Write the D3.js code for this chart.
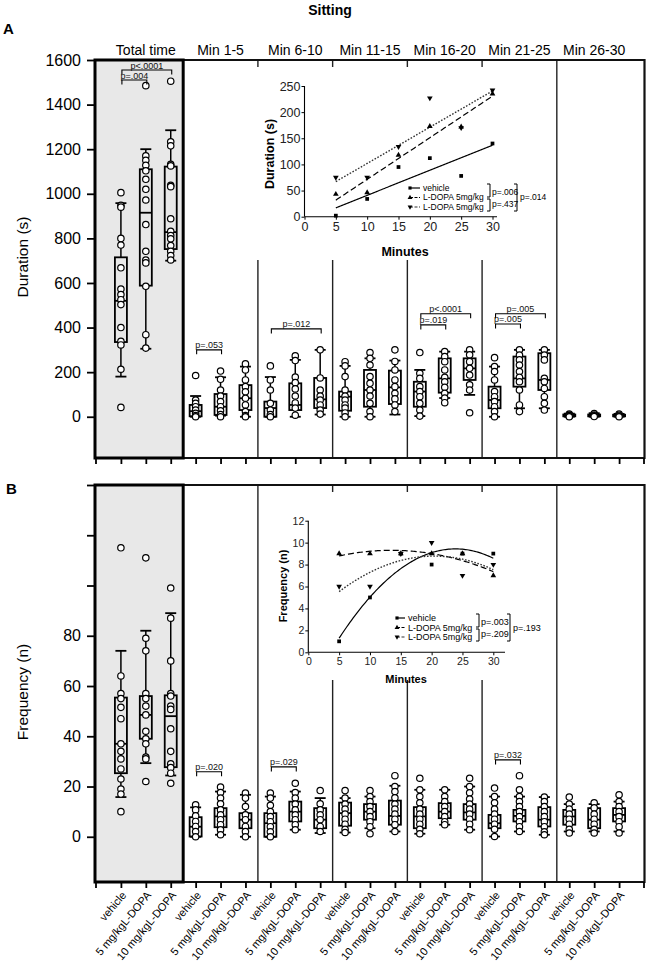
<!DOCTYPE html>
<html><head><meta charset="utf-8">
<script src="https://cdn.jsdelivr.net/npm/d3@7"></script>
<style>
body{margin:0;background:#fff}
svg{display:block;font-family:"Liberation Sans",Arial,sans-serif}
</style>
</head><body>
<svg id="c" width="649" height="967"></svg>
<script>
// ---------------- DATA ----------------
const periods = ["Total time","Min 1-5","Min 6-10","Min 11-15","Min 16-20","Min 21-25","Min 26-30"];
const treatments = ["vehicle","5 mg/kgL-DOPA","10 mg/kgL-DOPA"];

const durTicks = [0,200,400,600,800,1000,1200,1400,1600];
const durTickLabels = [0,200,400,600,800,1000,1200,1400,1600];
const freqTicks = [0,20,40,60,80,100,120,140];
const freqTickLabels = [0,20,40,60,80];

// Duration box stats (21 groups: period x treatment)
const durLo  = [180,305,700, 0,5,0, 0,0,10, 0,0,10, 3,84,98, 0,38,38, 0,0,0];
const durQ1  = [335,588,752, 2,8,30, 0,30,39, 27,45,57, 45,108,165, 38,135,120, 2,2,2];
const durMed = [520,915,828, 25,45,83, 39,53,78, 90,120,132, 113,172,217, 75,172,165, 5,6,5];
const durQ3  = [715,1110,1122, 53,102,142, 68,150,174, 113,210,207, 157,262,262, 135,270,285, 10,10,9];
const durHi  = [958,1200,1285, 93,177,225, 178,255,300, 228,262,252, 210,292,292, 225,300,300, 14,16,13];
const durPts = [
  [1005,948,940,800,770,668,573,548,525,503,400,338,322,213,42],
  [1485,1170,1150,1128,1103,1065,1020,972,862,742,703,690,585,368,308],
  [1505,1233,1215,1132,1125,1038,1032,888,832,813,798,768,742,723,703],
  [185,75,60,45,30,15,5,0],
  [205,168,120,93,68,45,27,10,0],
  [237,210,165,135,112,83,53,23,5,0],
  [228,165,120,60,30,10,0],
  [273,252,178,153,125,93,62,39,7],
  [300,174,120,93,75,53,30,12],
  [247,228,180,120,93,75,53,39,17,0],
  [288,262,232,180,150,120,93,60,23,0],
  [300,248,210,165,135,105,80,53,23],
  [288,195,172,135,113,90,60,30,3],
  [292,270,247,210,177,157,132,105,84,63],
  [300,278,247,217,187,143,120,18],
  [265,225,203,165,113,90,68,45,23,0],
  [300,277,255,232,203,177,157,120,53,23],
  [300,277,255,172,157,127,90,60,30],
  [12,8,5,2,0],
  [14,8,4,1],
  [12,7,3,0]
];
// Frequency box stats
const frqLo  = [15.8,29.3,24.4, 0,0.8,0, 0,2.8,1.5, 1.7,3.4,2.1, 1.2,4.8,2.8, 0.1,2.1,0.8, 2.1,2.1,2.1];
const frqQ1  = [25.3,39,27.7, 0.1,3.8,3.4, 0,6.1,3.4, 4.4,6.8,4.8, 3.4,7.4,6.8, 3.4,6.1,4.1, 4.8,3.4,6.1];
const frqMed = [37,48.5,48, 4,8.1,6.8, 5.4,10,6.8, 9.4,10,8.3, 8.1,10,9.7, 5.4,8.3,6.8, 8.1,6.8,8.7];
const frqQ3  = [55.4,56,56.3, 7.8,11.4,9.4, 9.4,14,11.4, 13.6,13,14.4, 11.8,13.4,13, 8.7,10.7,11.8, 10.7,11.4,11.4];
const frqHi  = [74,82,89, 11.7,18,16.7, 16,18,15.4, 15.4,16,20.3, 18.7,18.7,20, 16,16,15.8, 13,13,14];
const frqPts = [
  [115,64,57,55,51.5,47,37,34,31,27,23,19,17,10],
  [111,79,74,57,55,52,48.5,42,39,37,31.7,31,22],
  [99,87,70,57,56,52,50.7,43,34,29,27.5,25.3,21.3],
  [12.7,10.7,8.3,6.1,4.1,2.1,0],
  [19.8,17.6,15.4,13.1,10.7,8.7,6.8,4.8,2.8,0.8],
  [17.4,15.4,12,8.7,6.8,4.1,2.1,0],
  [17.4,15.4,12.5,10,8,6,4,2,0],
  [21.3,17.6,15.4,13,10.7,8.7,6.8,4.8,2.8],
  [18.4,13.1,10.7,8.7,6.8,4.1,2.1],
  [18.4,15.4,13,11,9,7,5,3,1.7],
  [18.4,16,14,12,10,8,6,4,1.2],
  [24.3,20,18,15.5,13,11,9,7,4.8,2.1],
  [23.3,18.7,16,13.5,11,9,7,5,3,1.2],
  [18.7,16,14,12,10,8,6,4.8],
  [23.3,20,17.5,15,13,11,9,7,5,2.8],
  [19.4,16,13.5,11,9,7,5,3,0.1],
  [24.3,18.7,16,14,12,10,8,6,4,2.1],
  [15.8,14,12,10,8,6,4,2,0.8],
  [15.8,13,11,9,7,5,3,1.5],
  [13.5,11.5,9,7,5,3,1.5],
  [16.7,14,12,10,8,6,4,1.5]
];
// significance brackets: [group from, group to, value level, label]
const durBrackets = [[0,2,1555,"p<.0001"],[0,1,1510,"p=.004"],[3,4,300,"p=.053"],[6,8,394,"p=.012"],
  [12,14,462,"p<.0001"],[12,13,412,"p=.019"],[15,17,462,"p=.005"],[15,16,416,"p=.005"]];
const frqBrackets = [[3,4,25.9,"p=.020"],[6,7,27.8,"p=.029"],[15,16,30.6,"p=.032"]];

// insets
const minutes = [5,10,15,20,25,30];
const minuteTicks = [0,5,10,15,20,25,30];
const insetDurTicks = [0,50,100,150,200,250];
const insetFrqTicks = [0,2,4,6,8,10,12];
const insetDurVeh = [2,34,95,112,78,140];
const insetDur5   = [43,46,118,173,172,235];
const insetDur10  = [75,75,134,227,170,242];
const insetFrqVeh = [1,5,9,8,9,9];
const insetFrq5   = [9,9,9,9,9,7];
const insetFrq10  = [6,6,9,10,7,8];
const insetLegend = ["vehicle","L-DOPA 5mg/kg","L-DOPA 5mg/kg"];
const insetDurP = ["p=.006","p=.437","p=.014"];
const insetFrqP = ["p=.003","p=.209","p=.193"];

// ---------------- DRAW ----------------
const FONT = '"Liberation Sans",Arial,sans-serif';
const svg = d3.select("#c");
const cats = d3.range(21);
const x = d3.scalePoint().domain(cats).range([96,644]).padding(1);
const st = x.step();
const divX = d3.range(1,7).map(k => x(k*3-1) + st/2);
const grayR = divX[0];

svg.append("text").attr("x",330).attr("y",15).attr("text-anchor","middle")
  .attr("font-weight","bold").attr("font-size",14).text("Sitting");
svg.append("text").attr("x",3).attr("y",34).attr("font-weight","bold").attr("font-size",15).text("A");
svg.append("text").attr("x",6).attr("y",494).attr("font-weight","bold").attr("font-size",15).text("B");

// headers
svg.selectAll("text.hdr").data(periods).join("text").attr("class","hdr")
  .attr("x",(d,i)=>x(i*3+1)).attr("y",55).attr("text-anchor","middle")
  .attr("font-size",14).text(d=>d);

function polyfit(xs, ys, deg){
  const n = deg+1;
  const A = Array.from({length:n},()=>Array(n).fill(0)), b = Array(n).fill(0);
  xs.forEach((xv,k)=>{ for(let r=0;r<n;r++){ b[r]+=ys[k]*Math.pow(xv,r); for(let c=0;c<n;c++) A[r][c]+=Math.pow(xv,r+c);} });
  for(let p=0;p<n;p++){ for(let r=p+1;r<n;r++){ const f=A[r][p]/A[p][p]; for(let c=p;c<n;c++) A[r][c]-=f*A[p][c]; b[r]-=f*b[p]; } }
  const co = Array(n).fill(0);
  for(let r=n-1;r>=0;r--){ let s=b[r]; for(let c=r+1;c<n;c++) s-=A[r][c]*co[c]; co[r]=s/A[r][r]; }
  return xv => co.reduce((a,c,k)=>a+c*Math.pow(xv,k),0);
}

function drawInset(g, o){
  g.append("rect").attr("x",o.box[0]).attr("y",o.box[1]).attr("width",o.box[2]).attr("height",o.box[3]).attr("fill","#fff");
  const xs = d3.scaleLinear().domain([0,30]).range(o.xr);
  const ys = d3.scaleLinear().domain(o.yd).range(o.yr);
  const ax = g.append("g").attr("transform",`translate(0,${o.yr[0]})`)
    .call(d3.axisBottom(xs).tickValues(minuteTicks).tickSize(3).tickPadding(2));
  ax.select(".domain").remove();
  ax.append("line").attr("x1",o.xr[0]).attr("x2",o.xEnd).attr("stroke","#000").attr("stroke-width",1.1);
  const ay = g.append("g").attr("transform",`translate(${o.xr[0]},0)`)
    .call(d3.axisLeft(ys).tickValues(o.yTicks).tickSize(3).tickPadding(1));
  ay.select(".domain").remove();
  ay.append("line").attr("y1",o.yr[0]).attr("y2",o.yr[1]).attr("stroke","#000").attr("stroke-width",1.1);
  [ax,ay].forEach(a=>{ a.attr("font-family",FONT).attr("font-size",o.fs);
    a.selectAll("text").attr("fill","#222"); a.selectAll(".tick line").attr("stroke","#000"); });
  g.append("text").attr("x",o.xt[0]).attr("y",o.xt[1]).attr("text-anchor","middle")
    .attr("font-weight","bold").attr("font-size",o.tfs).text("Minutes");
  g.append("text").attr("transform",`translate(${o.yt[0]},${o.yt[1]}) rotate(-90)`).attr("text-anchor","middle")
    .attr("font-weight","bold").attr("font-size",o.tfs).text(o.yTitle);

  const styles = [{dash:null,col:"#000",w:1.2},{dash:"6,3",col:"#000",w:1.2},{dash:"1.6,1.6",col:"#333",w:1.4}];
  const syms = [d3.symbol(d3.symbolSquare,14), d3.symbol(d3.symbolTriangle,14), d3.symbol(d3.symbolTriangle,14)];
  const rots = [0,0,180];
  o.series.forEach((s,k)=>{
    const f = polyfit(minutes, s, o.deg);
    const line = d3.line().x(d=>xs(d)).y(d=>ys(f(d))).curve(d3.curveLinear);
    g.append("path").attr("d", line(d3.range(5,30.001,0.25))).attr("fill","none")
      .attr("stroke",styles[k].col).attr("stroke-width",styles[k].w).attr("stroke-dasharray",styles[k].dash);
  });
  o.series.forEach((s,k)=>{
    g.selectAll(null).data(minutes).join("path")
      .attr("transform",(d,i)=>`translate(${xs(d)},${ys(s[i])}) rotate(${rots[k]})`)
      .attr("d",syms[k]()).attr("fill","#000");
  });
  // legend
  const lg = g.append("g").attr("font-size",o.lfs);
  insetLegend.forEach((t,k)=>{
    const yy = o.ly[k];
    lg.append("line").attr("x1",o.lx[0]).attr("x2",o.lx[1]).attr("y1",yy).attr("y2",yy)
      .attr("stroke",styles[k].col).attr("stroke-width",1.2).attr("stroke-dasharray",styles[k].dash ? "3,1.5" : null);
    lg.append("path").attr("transform",`translate(${o.lx[0]},${yy}) rotate(${rots[k]})`).attr("d",d3.symbol(k?d3.symbolTriangle:d3.symbolSquare,10)()).attr("fill","#000");
    lg.append("text").attr("x",o.lx[2]).attr("y",yy).attr("dy","0.35em").text(t);
  });
  const br = (bx,y1,y2)=>lg.append("path").attr("d",`M${bx-3},${y1}H${bx}V${y2}H${bx-3}`)
    .attr("fill","none").attr("stroke","#000").attr("stroke-width",1);
  br(o.bx[0], o.ly[0]-4, o.ly[1]-0.5);
  br(o.bx[0], o.ly[1]+1.5, o.ly[2]+4);
  br(o.bx[1], o.ly[0]-4, o.ly[2]+4);
  const pg = lg.append("g").attr("font-size",o.pfs);
  pg.append("text").attr("x",o.bx[0]+2).attr("y",(o.ly[0]+o.ly[1])/2-1).attr("dy","0.35em").text(o.p[0]);
  pg.append("text").attr("x",o.bx[0]+2).attr("y",(o.ly[1]+o.ly[2])/2+2).attr("dy","0.35em").text(o.p[1]);
  pg.append("text").attr("x",o.bx[1]+3).attr("y",(o.ly[0]+o.ly[2])/2).attr("dy","0.35em").text(o.p[2]);
}

function drawPanel(o){
  const y = d3.scaleLinear().domain(o.yd).range([o.bot,o.top]);
  const g = svg.append("g");
  g.append("rect").attr("x",95).attr("y",o.top).attr("width",grayR-95).attr("height",o.bot-o.top).attr("fill","#e8e8e8");
  g.selectAll("line.div").data(divX.slice(1)).join("line").attr("class","div")
    .attr("x1",d=>d).attr("x2",d=>d).attr("y1",o.top).attr("y2",o.bot)
    .attr("stroke","#222").attr("stroke-width",1.4);
  drawInset(g.append("g"), o.inset);
  g.append("path").attr("d",`M${grayR},${o.top}H644.5V${o.bot}H95`).attr("fill","none")
    .attr("stroke","#111").attr("stroke-width",2.2);
  g.append("rect").attr("x",95).attr("y",o.top).attr("width",grayR-95).attr("height",o.bot-o.top)
    .attr("fill","none").attr("stroke","#000").attr("stroke-width",3);
  // y axis
  const ya = g.append("g").attr("transform","translate(94,0)")
    .call(d3.axisLeft(y).tickValues(o.ticks).tickSize(7).tickPadding(6).tickFormat(d=>o.labels.includes(d)?d:""));
  ya.select(".domain").remove();
  ya.attr("font-family",FONT).attr("font-size",16);
  ya.selectAll("text").attr("fill","#000");
  ya.selectAll(".tick line").attr("stroke","#000").attr("stroke-width",1.8);
  g.append("text").attr("transform",`translate(28,${o.yTitleY}) rotate(-90)`).attr("text-anchor","middle")
    .attr("font-size",15.5).text(o.yTitle);
  // x ticks
  const xa = g.append("g").attr("transform",`translate(0,${o.bot})`)
    .call(d3.axisBottom(x).tickSize(6).tickFormat(""));
  xa.select(".domain").remove();
  xa.selectAll(".tick line").attr("stroke","#000").attr("stroke-width",1.8);
  x.range().forEach(r=>xa.append("line").attr("x1",r).attr("x2",r).attr("y1",0).attr("y2",6).attr("stroke","#000").attr("stroke-width",1.8));
  if (o.xLabels){
    xa.selectAll(".lab").data(cats).join("text").attr("class","lab")
      .attr("transform",i=>`translate(${x(i)+3},${11}) rotate(-50)`)
      .attr("text-anchor","end").attr("dy","0.35em").attr("font-size",11).attr("font-family",FONT)
      .attr("fill","#000").text(i=>treatments[i%3]);
  }
  // boxes
  const bw = 12, cw = 11;
  const bg = g.selectAll("g.box").data(cats).join("g").attr("class","box");
  const ln = (sel,x1,x2,y1,y2,w)=>sel.append("line").attr("x1",x1).attr("x2",x2).attr("y1",y1).attr("y2",y2).attr("stroke","#000").attr("stroke-width",w);
  bg.each(function(i){
    const s = d3.select(this), cx = x(i);
    ln(s,cx,cx,y(o.hi[i]),y(o.q3[i]),1.5);
    ln(s,cx,cx,y(o.q1[i]),y(o.lo[i]),1.5);
    ln(s,cx-cw/2,cx+cw/2,y(o.hi[i]),y(o.hi[i]),1.8);
    ln(s,cx-cw/2,cx+cw/2,y(o.lo[i]),y(o.lo[i]),1.8);
    s.append("rect").attr("x",cx-bw/2).attr("y",y(o.q3[i])).attr("width",bw)
      .attr("height",Math.max(0.5,y(o.q1[i])-y(o.q3[i]))).attr("fill","none").attr("stroke","#000").attr("stroke-width",1.8);
    ln(s,cx-bw/2,cx+bw/2,y(o.med[i]),y(o.med[i]),1.8);
    s.selectAll("circle").data(o.pts[i]).join("circle").attr("cx",cx).attr("cy",d=>y(d)).attr("r",3.2)
      .attr("fill","#fff").attr("stroke","#000").attr("stroke-width",1.2);
  });
  // brackets
  o.brackets.forEach(([a,b,v,t])=>{
    const yy = y(v), x1 = x(a)+1, x2 = x(b)+1;
    g.append("path").attr("d",`M${x1},${yy+4.5}V${yy}H${x2}V${yy+4.5}`).attr("fill","none")
      .attr("stroke","#000").attr("stroke-width",1.1);
    g.append("text").attr("x",(x1+x2)/2).attr("y",yy-1.5).attr("text-anchor","middle")
      .attr("font-size",9).attr("fill","#111").text(t);
  });
}

drawPanel({yd:[-185,1600], top:60, bot:458, ticks:durTicks, labels:durTickLabels,
  lo:durLo,q1:durQ1,med:durMed,q3:durQ3,hi:durHi,pts:durPts,brackets:durBrackets,
  yTitle:"Duration (s)", yTitleY:257, xLabels:false,
  inset:{box:[245,67,307,193], xr:[304.5,492.5], yd:[0,250], yr:[216.7,86], xEnd:497,
    yTicks:insetDurTicks, fs:12.5, tfs:12.5, xt:[405,256], yt:[274,154], yTitle:"Duration (s)",
    series:[insetDurVeh,insetDur5,insetDur10], deg:1,
    lfs:8.5, pfs:8.5, ly:[188,197.5,207], lx:[410,420,423], bx:[490,517], p:insetDurP}});

drawPanel({yd:[-18,140], top:485, bot:882, ticks:freqTicks, labels:freqTickLabels,
  lo:frqLo,q1:frqQ1,med:frqMed,q3:frqQ3,hi:frqHi,pts:frqPts,brackets:frqBrackets,
  yTitle:"Frequency (n)", yTitleY:692, xLabels:true,
  inset:{box:[262,492,290,188], xr:[308.3,493.3], yd:[0,12], yr:[652.3,520.7], xEnd:505,
    yTicks:insetFrqTicks, fs:10.5, tfs:11, xt:[406,683], yt:[287,586], yTitle:"Frequency (n)",
    series:[insetFrqVeh,insetFrq5,insetFrq10], deg:2,
    lfs:9, pfs:9, ly:[618,627.5,637], lx:[397,405,408], bx:[479,510], p:insetFrqP}});
</script>
</body></html>
